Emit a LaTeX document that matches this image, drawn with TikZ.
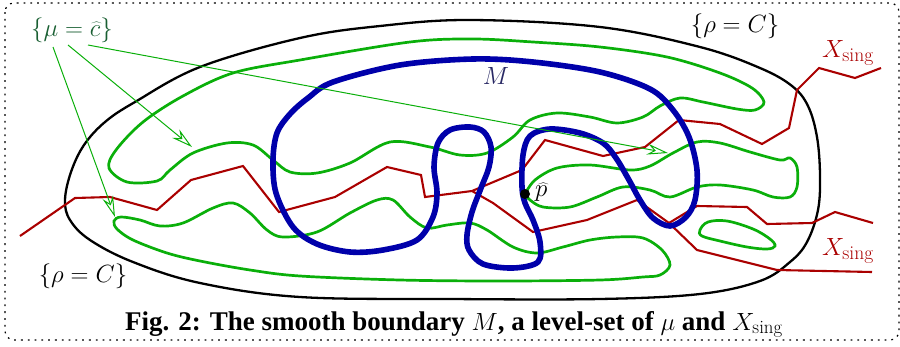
\documentclass[tikz,border=0pt]{standalone}
\usepackage{fontspec}
\newfontfamily\capfont{Liberation Serif}
\usetikzlibrary{arrows.meta}
\definecolor{gr}{RGB}{10,175,10}
\definecolor{bl}{RGB}{0,0,170}
\definecolor{rd}{RGB}{170,0,0}
\definecolor{lab}{RGB}{25,95,50}
\definecolor{mlab}{RGB}{40,40,100}
\tikzset{
  frame/.style={draw=black, line width=1.2pt, dash pattern=on 1.8pt off 5pt, rounded corners=9pt},
  rhoset/.style={draw=black, line width=2.3pt},
  levelset/.style={draw=gr, line width=2.7pt},
  singset/.style={draw=rd, line width=2.1pt, line join=miter},
  bndset/.style={draw=bl, line width=5.6pt},
  pointer/.style={draw=gr, line width=1pt, -{Stealth[open, length=21pt, width=11pt, inset=7pt]}},
  lbl/.style={inner sep=0pt, font=\fontsize{28}{32}\selectfont},
}
\begin{document}
\begin{tikzpicture}[x=1pt,y=-1pt]
\useasboundingbox (0,0) rectangle (900,346);
\clip (0,0) rectangle (900,346);
\draw[frame] (5,3) rectangle (899,340);

% level set of rho
\draw[rhoset] plot[smooth cycle, tension=0.6] coordinates {
 (65,200) (71,172) (84,145) (105,122) (135,102) (200,67) (300,38) (380,26) (470,20)
 (600,27) (700,47) (760,68) (792,86) (808,106) (817,137) (820,175) (818,210) (807,242)
 (790,262) (760,281) (700,294) (600,299) (450,299) (300,297) (200,283) (133,262) (90,240) (70,220)};

% level sets of mu
\draw[levelset] plot[smooth cycle, tension=0.55] coordinates {
 (109,168) (116,150) (143,122) (183,96) (233,73) (300,60) (410,42) (473,39) (533,42)
 (600,47) (667,57) (720,73) (752,88) (764,102) (755,110) (737,109) (703,102) (680,98)
 (660,106) (643,117) (617,123) (590,117) (557,113) (530,120) (513,137) (487,153) (460,155)
 (430,147) (390,142) (350,163) (317,173) (290,172) (273,160) (253,145) (227,143) (193,153)
 (170,170) (157,181) (127,182)};
\draw[levelset] plot[smooth cycle, tension=0.55] coordinates {
 (114,221) (121,217) (140,220) (160,226) (183,223) (213,208) (233,203) (250,213) (267,230)
 (283,237) (317,232) (350,213) (377,200) (393,200) (410,217) (427,228) (447,225) (470,223)
 (487,230) (513,247) (537,253) (563,247) (590,240) (617,237) (643,238) (662,250) (670,265)
 (660,275) (643,277) (600,280) (500,281) (400,280) (300,276) (250,270) (200,261) (167,253)
 (133,240) (117,229)};
\coordinate (phat) at (525,194);
\draw[levelset] plot[smooth, tension=0.55] coordinates {
 (525,194) (535,180) (557,168) (590,165) (630,170) (650,166) (673,153) (697,142) (720,143)
 (750,152) (780,160) (790,158) (797,167) (797,187) (790,197) (773,197) (753,190) (720,185)
 (697,187) (670,197) (650,190) (623,187) (597,197) (570,207) (543,207) (530,200) (525,194)};
\draw[levelset] plot[smooth cycle, tension=0.6] coordinates {
 (700,230) (708,222) (727,221) (753,229) (770,239) (775,246) (767,249) (747,247) (720,241) (702,236)};

% singular set
\coordinate (j1) at (472,191);
\coordinate (j2) at (669,223);
\draw[singset] (20,236) -- (75,198) -- (110,197) -- (157,210) -- (191,180) -- (243,166)
 -- (279,212) -- (335,197) -- (387,167) -- (421,175) -- (425,197) -- (j1)
 -- (522,170) -- (545,140) -- (603,156) -- (645,147) -- (679,120) -- (720,124) -- (762,144)
 -- (789,128) -- (797,90) -- (819,68) -- (855,78) -- (881,68);
\draw[singset] (j1) -- (493,203) -- (533,232) -- (587,220) -- (637,200) -- (j2)
 -- (697,250) -- (777,270) -- (872,272);
\draw[singset] (j2) -- (697,206) -- (747,207) -- (767,224) -- (812,223) -- (835,212) -- (873,223);

% smooth boundary M
\draw[bndset] plot[smooth cycle, tension=0.55] coordinates {
 (276,193) (273,160) (277,133) (290,114) (308,98) (333,82) (400,65) (473,59) (533,62) (600,72)
 (650,89) (673,110) (689,137) (697,170) (695,200) (686,217) (670,226) (653,218) (640,200)
 (629,180) (616,158) (603,143) (580,133) (550,129) (530,136) (523,155) (522,187) (525,203)
 (533,220) (540,242) (538,262) (513,268) (483,264) (469,250) (467,235) (472,212) (481,188)
 (489,167) (491,147) (484,132) (470,127) (450,130) (438,143) (434,167) (437,193) (433,217)
 (417,240) (383,250) (350,252) (317,244) (293,227)};

\fill[black] (phat) circle (5pt);

% labels
\node[lbl, text=lab, font=\fontsize{26}{30}\selectfont] (mulab) at (72,30) {$\{\mu=\widehat{c}\}$};
\node[lbl] (rhotop) at (735,26) {$\{\rho=C\}$};
\node[lbl] (rhobot) at (83,276) {$\{\rho=C\}$};
\node[lbl, text=mlab, font=\fontsize{26}{30}\selectfont] (mlabel) at (496,76) {$M$};
\node[lbl, anchor=west, font=\fontsize{26}{30}\selectfont] (plabel) at (535,192) {$\widehat{p}$};
\node[lbl, text=rd] (xtop) at (848,53) {$X_{\mathrm{sing}}$};
\node[lbl, text=rd] (xbot) at (848,251) {$X_{\mathrm{sing}}$};
\node[inner sep=0pt, anchor=base, font=\fontsize{27}{31}\selectfont\capfont\bfseries] (cap) at (454,330)
 {Fig. 2: The smooth boundary $M$, a level-set of $\mu$ and $X_{\mathrm{sing}}$};

% pointers
\coordinate (t1) at (115,217);
\coordinate (t2) at (192,147);
\coordinate (t3) at (668,153);
\draw[pointer] (53,47) -- (t1);
\draw[pointer] (68,45) -- (t2);
\draw[pointer] (88,45) -- (t3);
\end{tikzpicture}
\end{document}
